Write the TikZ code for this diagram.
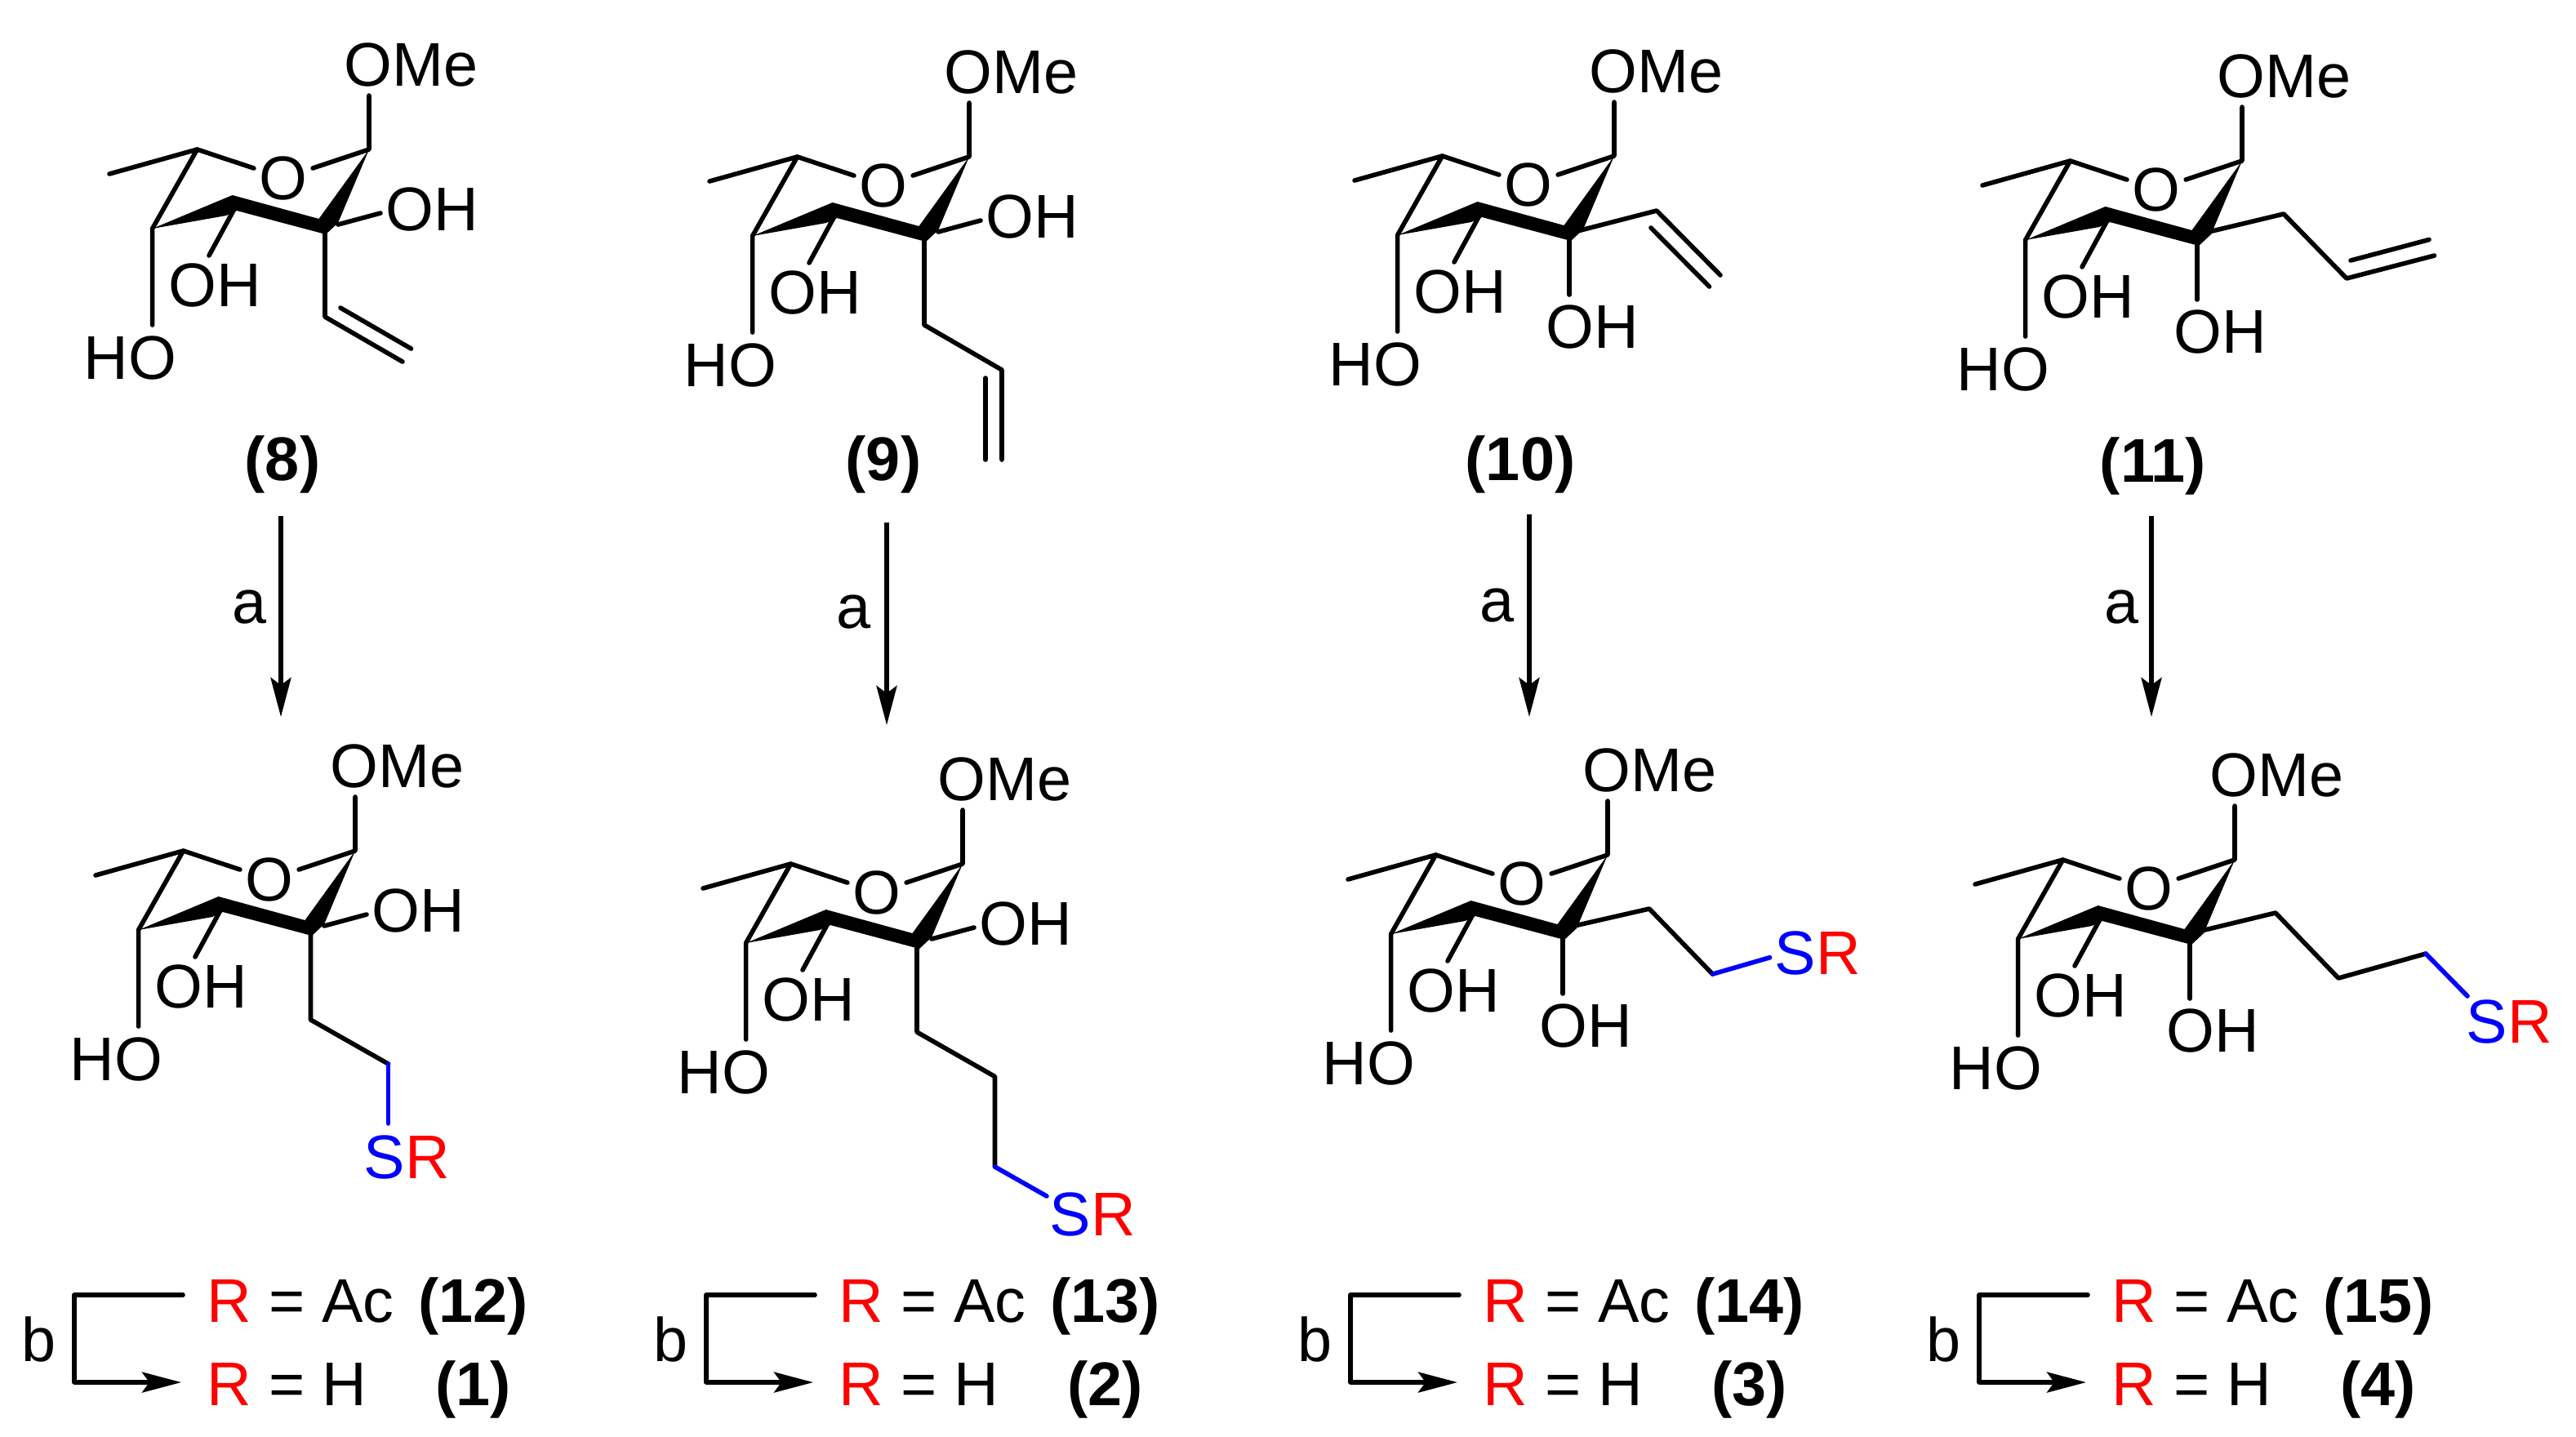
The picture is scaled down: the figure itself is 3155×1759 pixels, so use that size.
\documentclass[tikz,border=0pt]{standalone}
\usepackage{fontspec}
\setmainfont{Liberation Sans}
\usetikzlibrary{arrows.meta}
\newcommand{\chemfont}{\fontsize{21.5}{26}\selectfont}
\tikzset{
  bond/.style={line width=0.056cm, line cap=round, line join=round},
  sbond/.style={bond, color=blue},
  atom/.style={inner sep=0pt, anchor=base west, font=\chemfont},
  ringatom/.style={inner xsep=0.06cm, inner ysep=0.1cm, font=\chemfont},
  cpd/.style={inner sep=0pt, font=\chemfont\bfseries},
  rxn/.style={line width=0.052cm, -{Stealth[length=0.48cm,width=0.25cm,inset=0.09cm]}},
}
% ring, drawn round c1
\newcommand{\sugarring}[1]{%
\coordinate (#1c1) at (0,0);
\coordinate (#1c5) at (-210.5,0);
\coordinate (#1me) at (-318,30);
\coordinate (#1c4) at (-265.4,97);
\coordinate (#1c3t) at (-167.4,56);
\coordinate (#1c3b) at (-162,75);
\coordinate (#1c3n) at (-175,81);
\coordinate (#1c2t) at (-61.5,85);
\coordinate (#1c2b) at (-53,104);
\coordinate (#1c2w) at (-38,90);
\coordinate (#1o1) at (0,-66);
\coordinate (#1o3) at (-196,130);
\coordinate (#1o4) at (-265.4,215);
\coordinate (#1c3s) at (-164.5,72);
\node[ringatom] (#1o) at (-105,35) {O};
\node[atom] (#1ome) at (-31,-78) {OMe};
\node[atom] (#1oh3) at (-246,192) {OH};
\node[atom] (#1ho) at (-350,281) {HO};
\fill[line join=round] (#1c4) -- (#1c3t) -- (#1c2t) -- (#1c1) -- (#1c2w) -- (#1c2b) -- (#1c3b) -- (#1c3n) -- cycle;
\draw[bond] (#1me) -- (#1c5) -- (#1c4) -- (#1o4);
\draw[bond] (#1c5) -- (#1o) -- (#1c1) -- (#1o1);
\draw[bond] (#1c3s) -- (#1o3);
}
% the OH on c2 when it sits to the right
\newcommand{\sideoh}[1]{%
\coordinate (#1o2s) at (-38,92);
\coordinate (#1o2) at (14,78);
\node[atom] (#1oh2) at (20,99) {OH};
\draw[bond] (#1o2s) -- (#1o2);
}
% the OH on c2 when it points down
\newcommand{\downoh}[1]{%
\coordinate (#1o2s) at (-55,100);
\coordinate (#1o2) at (-55,170);
\node[atom] (#1oh2) at (-84,235) {OH};
\draw[bond] (#1o2s) -- (#1o2);
}
% step a
\newcommand{\stepa}[6]{%
\coordinate (#1s) at (#2,#3);
\coordinate (#1e) at (#2,#4);
\draw[rxn] (#1s) -- (#1e);
\node[atom] (#1lab) at (#5,#6) {a};
}
% step b and its two lines
\newcommand{\stepb}[4]{%
\begin{scope}[xshift=#2*0.01cm]
\node[atom] (#1b) at (26,1667) {b};
\coordinate (#1t) at (224,1586);
\coordinate (#1k) at (91,1586);
\coordinate (#1j) at (91,1693);
\coordinate (#1e) at (222,1693);
\draw[bond] (#1t) -- (#1k) -- (#1j);
\draw[rxn] (#1j) -- (#1e);
\node[atom] (#1ac) at (253,1619) {\textcolor{red}{R} = Ac};
\node[atom] (#1h) at (253,1721) {\textcolor{red}{R} = H};
\node[cpd, anchor=base west] (#1n) at (512,1619) {(#3)};
\node[cpd, anchor=base west] (#1m) at (533,1721) {(#4)};
\end{scope}
}

\begin{document}
\begin{tikzpicture}[x=0.01cm,y=-0.01cm]
\useasboundingbox (0,0) rectangle (3155,1759);
%----------------------------------
\begin{scope}[shift={(452,183)}]
\sugarring{m8}
\sideoh{m8}
\coordinate (m8a) at (-54,100);
\coordinate (m8b) at (-54,205);
\coordinate (m8c) at (41,260);
\coordinate (m8d) at (-35,194);
\coordinate (m8f) at (51.5,244);
\draw[bond] (m8a) -- (m8b) -- (m8c);
\draw[bond] (m8d) -- (m8f);
\end{scope}
\node[cpd, anchor=base] (n8) at (346,588) {(8)};
\stepa{r8}{344}{632}{878}{284}{763}
%----------------------------------
\begin{scope}[shift={(1187,192)}]
\sugarring{m9}
\sideoh{m9}
\coordinate (m9a) at (-55,100);
\coordinate (m9b) at (-55,206);
\coordinate (m9c) at (40,261);
\coordinate (m9d) at (40,371);
\coordinate (m9f) at (20,271);
\coordinate (m9g) at (20,371);
\draw[bond] (m9a) -- (m9b) -- (m9c) -- (m9d);
\draw[bond] (m9f) -- (m9g);
\end{scope}
\node[cpd, anchor=base] (n9) at (1082,588) {(9)};
\stepa{r9}{1086}{640}{888}{1024}{769}
%----------------------------------
\begin{scope}[shift={(1977,191)}]
\sugarring{m10}
\downoh{m10}
\coordinate (m10a) at (-45,92);
\coordinate (m10b) at (52,67);
\coordinate (m10c) at (130,146);
\coordinate (m10d) at (45,88);
\coordinate (m10f) at (116.5,160);
\draw[bond] (m10a) -- (m10b) -- (m10c);
\draw[bond] (m10d) -- (m10f);
\end{scope}
\node[cpd, anchor=base] (n10) at (1862,588) {(10)};
\stepa{r10}{1873}{630}{878}{1812}{761}
%----------------------------------
\begin{scope}[shift={(2746,197)}]
\sugarring{m11}
\downoh{m11}
\coordinate (m11a) at (-41,87);
\coordinate (m11b) at (51,65);
\coordinate (m11c) at (128,144);
\coordinate (m11d) at (235.5,116);
\coordinate (m11f) at (133,122);
\coordinate (m11g) at (229,96.5);
\draw[bond] (m11a) -- (m11b) -- (m11c) -- (m11d);
\draw[bond] (m11f) -- (m11g);
\end{scope}
\node[cpd, anchor=base] (n11) at (2637,590) {(11)};
\stepa{r11}{2635}{632}{878}{2577}{763}
%----------------------------------
\begin{scope}[shift={(435,1042)}]
\sugarring{m12}
\sideoh{m12}
\coordinate (m12a) at (-54.5,100);
\coordinate (m12b) at (-54.5,207);
\coordinate (m12c) at (40.6,261);
\coordinate (m12d) at (40.6,334);
\draw[bond] (m12a) -- (m12b) -- (m12c);
\draw[sbond] (m12c) -- (m12d);
\node[atom] (m12sr) at (10,401.6) {\textcolor{blue}{S}\textcolor{red}{R}};
\end{scope}
%----------------------------------
\begin{scope}[shift={(1179,1058)}]
\sugarring{m13}
\sideoh{m13}
\coordinate (m13a) at (-56,100);
\coordinate (m13b) at (-56,206);
\coordinate (m13c) at (39.5,260.5);
\coordinate (m13d) at (39.5,371);
\coordinate (m13f) at (103,407);
\draw[bond] (m13a) -- (m13b) -- (m13c) -- (m13d);
\draw[sbond] (m13d) -- (m13f);
\node[atom] (m13sr) at (106,455) {\textcolor{blue}{S}\textcolor{red}{R}};
\end{scope}
%----------------------------------
\begin{scope}[shift={(1969,1047)}]
\sugarring{m14}
\downoh{m14}
\coordinate (m14a) at (-41,87);
\coordinate (m14b) at (51,66);
\coordinate (m14c) at (128.5,146);
\coordinate (m14d) at (198.6,125.7);
\draw[bond] (m14a) -- (m14b) -- (m14c);
\draw[sbond] (m14c) -- (m14d);
\node[atom] (m14sr) at (204,146) {\textcolor{blue}{S}\textcolor{red}{R}};
\end{scope}
%----------------------------------
\begin{scope}[shift={(2737,1053)}]
\sugarring{m15}
\downoh{m15}
\coordinate (m15a) at (-41,87);
\coordinate (m15b) at (50,65);
\coordinate (m15c) at (127,145);
\coordinate (m15d) at (234,115);
\coordinate (m15f) at (285,167);
\draw[bond] (m15a) -- (m15b) -- (m15c) -- (m15d);
\draw[sbond] (m15d) -- (m15f);
\node[atom] (m15sr) at (283,224) {\textcolor{blue}{S}\textcolor{red}{R}};
\end{scope}
%----------------------------------
\stepb{p1}{0}{\textbf{12}}{\textbf{1}}
\stepb{p2}{774}{\textbf{13}}{\textbf{2}}
\stepb{p3}{1563}{\textbf{14}}{\textbf{3}}
\stepb{p4}{2333}{\textbf{15}}{\textbf{4}}
\end{tikzpicture}
\end{document}
